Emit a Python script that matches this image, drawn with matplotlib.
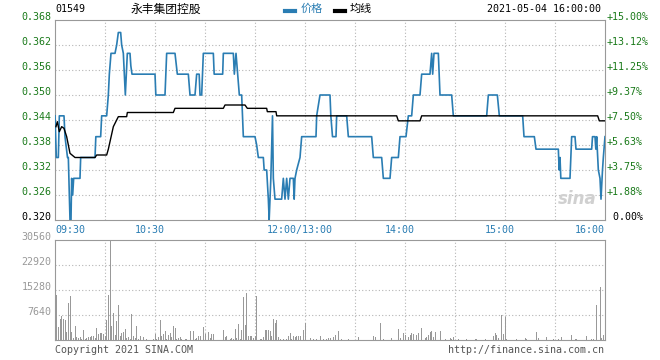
import matplotlib.pyplot as plt
from matplotlib.lines import Line2D
from matplotlib import transforms

# Данные: минуты торгов от 09:30 (обед 12:00-13:00 пропущен)
price_min = [0, 0.8, 2, 2.6, 5.4, 6, 7.5, 8, 9, 9.6, 10, 10.6, 11.2, 12, 15, 15.4, 24, 24.5,
             27.4, 28, 31, 32, 32.6, 33.6, 36, 37, 38, 39.4, 40, 41, 42.2, 43.4, 45, 45.5,
             46.2, 60, 60.5, 66, 67, 72, 73.4, 80, 81, 84, 85, 86.5, 87, 88, 89, 95, 95.5,
             100.6, 101, 107, 107.6, 108.6, 109.6, 110.6, 112, 113, 114, 120, 121, 122, 125,
             125.5, 127, 128, 128.5, 129.5, 130.5, 131, 132, 136, 137, 138, 139, 140, 141,
             143, 143.5, 144, 145, 147, 148, 156.6, 157, 159, 165, 165.5, 166.5, 168.6, 169,
             175, 176, 190, 191, 196, 197, 201, 202, 206, 207, 210.6, 212, 214, 215, 219, 220,
             225, 226, 226.6, 227.4, 230, 231, 238, 239, 259, 260, 265.4, 266.6, 280.6, 281.4,
             287.6, 288.6, 302, 302.5, 303, 303.5, 309, 310, 312, 312.6, 322, 322.5, 324,
             324.5, 325, 326, 327, 327.6, 328.5, 329, 330]
price = [0.345, 0.335, 0.335, 0.345, 0.345, 0.340, 0.335, 0.335, 0.320, 0.320, 0.330, 0.326,
         0.330, 0.330, 0.330, 0.335, 0.335, 0.340, 0.340, 0.345, 0.345, 0.350, 0.355, 0.360,
         0.360, 0.362, 0.365, 0.365, 0.362, 0.360, 0.350, 0.360, 0.360, 0.357, 0.355, 0.355,
         0.350, 0.350, 0.360, 0.360, 0.355, 0.355, 0.350, 0.350, 0.355, 0.355, 0.350, 0.350,
         0.360, 0.360, 0.355, 0.355, 0.360, 0.360, 0.355, 0.360, 0.355, 0.350, 0.350, 0.340,
         0.340, 0.340, 0.338, 0.335, 0.335, 0.332, 0.332, 0.325, 0.320, 0.330, 0.345, 0.330,
         0.325, 0.325, 0.330, 0.325, 0.330, 0.325, 0.330, 0.330, 0.325, 0.330, 0.332, 0.335,
         0.340, 0.340, 0.345, 0.350, 0.350, 0.345, 0.340, 0.340, 0.345, 0.345, 0.340, 0.340,
         0.335, 0.335, 0.330, 0.330, 0.335, 0.335, 0.340, 0.340, 0.345, 0.345, 0.350, 0.350,
         0.355, 0.355, 0.360, 0.355, 0.360, 0.360, 0.350, 0.350, 0.345, 0.345, 0.350, 0.350,
         0.345, 0.345, 0.340, 0.340, 0.337, 0.337, 0.332, 0.335, 0.330, 0.330, 0.340, 0.340,
         0.337, 0.337, 0.340, 0.340, 0.337, 0.340, 0.332, 0.330, 0.325, 0.332, 0.335, 0.340]

avg_min = [0.6, 1.4, 2.6, 4, 5.4, 7, 9, 12, 24, 25, 31, 32, 35, 38, 43, 43.4, 71, 72, 84, 101,
           102, 114, 115.4, 127, 127.4, 132.6, 133, 205, 206, 219, 220, 325.6, 326.6, 330]
avg_price = [0.3424, 0.3436, 0.3412, 0.3424, 0.3420, 0.3400, 0.3360, 0.3350, 0.3350, 0.3356,
             0.3356, 0.3370, 0.3424, 0.3448, 0.3448, 0.3458, 0.3458, 0.3468, 0.3468, 0.3468,
             0.3476, 0.3476, 0.3468, 0.3468, 0.3460, 0.3460, 0.3450, 0.3450, 0.3438, 0.3438,
             0.3450, 0.3450, 0.3438, 0.3438]

vol_min = [1, 2, 3, 4, 5, 6, 7, 8, 9, 10, 11, 12, 13, 14, 15, 16, 17, 18, 19, 20, 21, 22, 23,
           24, 25, 26, 27, 28, 29, 30, 31, 32, 33, 34, 35, 36, 37, 38, 39, 40, 41, 42, 43, 44,
           45, 46, 47, 48, 49, 50, 51, 53, 55, 59, 60, 61, 62, 63, 64, 65, 66, 67, 68, 69, 70,
           71, 72, 73, 74, 75, 76, 78, 79, 81, 83, 84, 85, 86, 87, 89, 90, 92, 93, 94, 95,
           101, 102, 103, 105, 106, 107, 108, 109, 110, 111, 112, 113, 114, 115, 116, 117,
           118, 119, 120, 121, 123, 124, 125, 126, 127, 128, 129, 130, 131, 132, 133, 134,
           135, 137, 139, 140, 141, 142, 143, 144, 145, 146, 147, 149, 150, 153, 155, 157,
           159, 161, 163, 164, 165, 167, 168, 170, 172, 176, 182, 191, 192, 195, 197, 202,
           206, 207, 209, 210, 212, 213, 214, 215, 217, 218, 220, 222, 223, 224, 225, 226,
           227, 228, 231, 234, 237, 238, 239, 242, 247, 252, 253, 258, 263, 264, 265, 266,
           268, 269, 270, 271, 277, 282, 283, 289, 290, 295, 299, 302, 304, 310, 312, 313,
           319, 322, 323, 325, 327, 328, 329, 330]
volume = [13700, 4100, 6360, 7380, 6360, 6050, 2460, 11300, 13500, 2460, 700, 4300, 900, 700,
          900, 400, 3000, 400, 700, 900, 900, 1200, 1200, 600, 3700, 1700, 2250, 2050, 1950,
          1200, 6150, 13700, 30560, 4300, 8200, 1500, 5740, 10760, 1200, 2050, 2460, 3280,
          700, 900, 400, 8000, 1200, 700, 4300, 400, 1200, 900, 200, 200, 1850, 400, 1000,
          6150, 1200, 1850, 2770, 400, 1640, 2250, 820, 4300, 3700, 400, 700, 900, 200, 400,
          200, 2660, 2660, 400, 700, 1200, 1200, 4100, 1740, 2460, 700, 1740, 1740,
          3070, 900, 1200, 400, 700, 400, 3280, 700, 4800, 200, 3070, 13000, 4600, 14350,
          1200, 1200, 1200, 700, 1200, 13500, 200, 400, 900, 3070, 3070, 3070, 2770, 1200,
          6360, 5100, 6150, 900, 200, 400, 400, 1200, 2050, 400, 1200, 900, 1200, 1200,
          1200, 3070, 5100, 700, 200, 400, 1200, 400, 200, 700, 600, 800, 1600, 2850, 200,
          200, 1000, 1300, 1000, 5300, 400, 600, 3460, 600, 2040, 1600, 1000, 1600, 2040,
          1800, 1400, 2240, 3770, 600, 1000, 1600, 2450, 2650, 1000, 2550, 2850, 200, 600,
          400, 800, 400, 200, 300, 200, 200, 1200, 2040, 1400, 600, 7750, 1900, 6900, 300,
          300, 500, 300, 2550, 600, 900, 400, 300, 900, 1600, 400, 400, 1300, 300, 300,
          10800, 16300, 600, 1600, 2140]

price_ticks = [0.320, 0.326, 0.332, 0.338, 0.344, 0.350, 0.356, 0.362, 0.368]
pct_labels = [' 0.00%', '+1.88%', '+3.75%', '+5.63%', '+7.50%', '+9.37%', '+11.25%',
              '+13.12%', '+15.00%']
vol_ticks = [7640, 15280, 22920, 30560]
grid_min = [30, 60, 90, 120, 150, 180, 210, 240, 270, 300]
time_pos = [0, 57, 147, 207, 267, 330]
time_labels = ['09:30', '10:30', '12:00/13:00', '14:00', '15:00', '16:00']

mono = 'DejaVu Sans Mono'
cjk = ['Noto Sans CJK SC', 'DejaVu Sans']
green = '#1a7a1a'
blue = '#2a7db3'
grid_kw = dict(color='#b5b5b5', lw=0.8, linestyle=(0, (1, 2)))

fig = plt.figure(figsize=(6.6, 3.6), dpi=100)
ax = fig.add_axes([55 / 660, 1 - 220 / 360, 550 / 660, 200 / 360])
axv = fig.add_axes([55 / 660, 1 - 340 / 360, 550 / 660, 100 / 360])

# Верхняя панель: цена
ax.set_xlim(0, 330)
ax.set_ylim(0.320, 0.368)
for t in price_ticks[1:-1]:
    ax.axhline(t, **grid_kw, zorder=0)
for g in grid_min:
    ax.axvline(g, **grid_kw, zorder=0)
ax.plot(price_min, price, color=blue, lw=1.2, zorder=3)
ax.plot(avg_min, avg_price, color='black', lw=1.0, zorder=4)
ax.set_xticks([])
ax.set_yticks([])
for s in ax.spines.values():
    s.set_color('#999999')

ytr = transforms.blended_transform_factory(ax.transAxes, ax.transData)
for i, t in enumerate(price_ticks):
    c = 'black' if i == 0 else green
    ax.text(-0.006, t, f'{t:.3f}', transform=ytr, ha='right', va='baseline',
            fontsize=7.2, family=mono, color=c)
    ax.text(1.003, t, pct_labels[i], transform=ytr, ha='left', va='baseline',
            fontsize=7.2, family=mono, color=c)

xtr = transforms.blended_transform_factory(ax.transData, ax.transAxes)
for p, lab in zip(time_pos, time_labels):
    ha = 'left' if p == 0 else ('right' if p == 330 else 'center')
    ax.text(p, -0.025, lab, transform=xtr, ha=ha, va='top', fontsize=7.2,
            family=mono, color=blue)

ax.text(0.985, 0.06, 'sina', transform=ax.transAxes, ha='right', va='bottom',
        fontsize=12, style='italic', fontweight='bold', color='#d0d0d0', zorder=1)

# Нижняя панель: объём
axv.set_xlim(0, 330)
axv.set_ylim(0, 30560)
for t in vol_ticks[:-1]:
    axv.axhline(t, **grid_kw, zorder=0)
for g in grid_min:
    axv.axvline(g, **grid_kw, zorder=0)
axv.bar(vol_min, volume, width=0.6, color='#999999', linewidth=0, zorder=2)
axv.set_xticks([])
axv.set_yticks([])
for s in axv.spines.values():
    s.set_color('#999999')
vtr = transforms.blended_transform_factory(axv.transAxes, axv.transData)
for t in vol_ticks:
    axv.text(-0.006, t, str(t), transform=vtr, ha='right', va='baseline',
             fontsize=7.2, family=mono, color='#999999')

# Заголовок и легенда
fig.text(55 / 660, 1 - 9 / 360, '01549', ha='left', va='center', fontsize=7.2,
         family=mono, color='black')
fig.text(166 / 660, 1 - 9 / 360, '永丰集团控股', ha='center', va='center',
         fontsize=8.5, family=cjk, color='black')
fig.add_artist(Line2D([285 / 660, 295 / 660], [1 - 11 / 360] * 2, color=blue, lw=3,
                      transform=fig.transFigure))
fig.text(301 / 660, 1 - 9 / 360, '价格', ha='left', va='center', fontsize=8,
         family=cjk, color=blue)
fig.add_artist(Line2D([335 / 660, 345 / 660], [1 - 11 / 360] * 2, color='black', lw=3,
                      transform=fig.transFigure))
fig.text(350 / 660, 1 - 9 / 360, '均线', ha='left', va='center', fontsize=8,
         family=cjk, color='black')
fig.text(601 / 660, 1 - 9 / 360, '2021-05-04 16:00:00', ha='right', va='center',
         fontsize=7.2, family=mono, color='black')

fig.text(55 / 660, 1 - 350 / 360, 'Copyright 2021 SINA.COM', ha='left', va='center',
         fontsize=7.2, family=mono, color='#555555')
fig.text(604 / 660, 1 - 350 / 360, 'http://finance.sina.com.cn', ha='right', va='center',
         fontsize=7.2, family=mono, color='#555555')

fig.savefig('out.png', dpi=100)
